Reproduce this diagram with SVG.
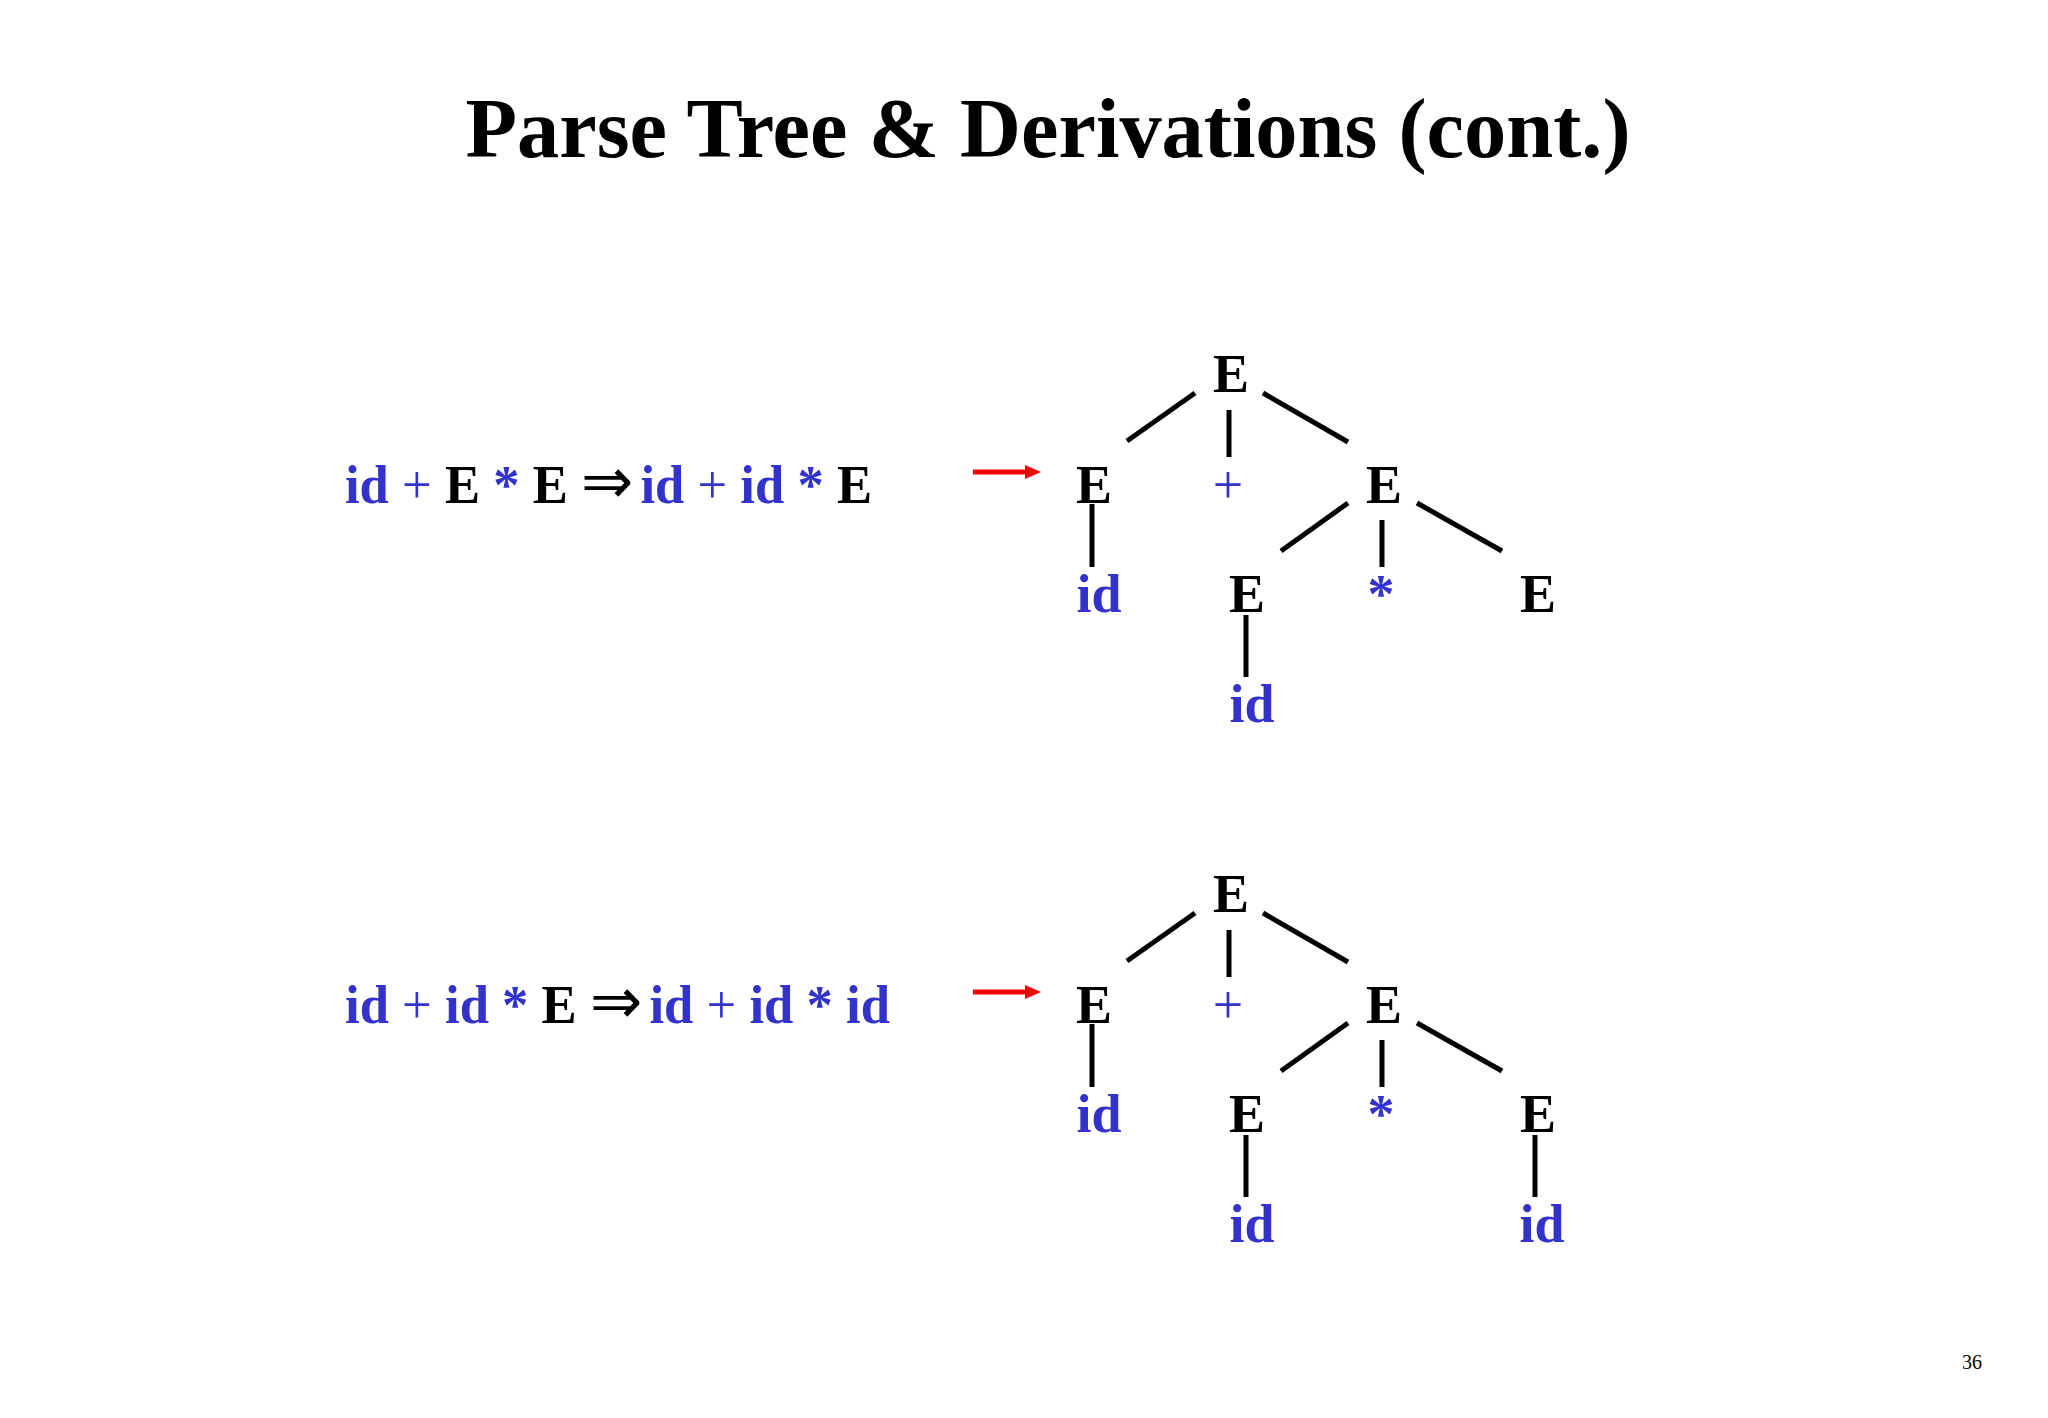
<svg xmlns="http://www.w3.org/2000/svg" width="2048" height="1418" viewBox="0 0 2048 1418">
<style>
text{font-family:"Liberation Serif","Times New Roman",serif;font-weight:bold;font-size:54px}
.b{fill:#3333cc}
.k{fill:#000000}
.r{font-weight:normal}
.dbl{font-size:64px}
.gap{font-size:28px}
.n{text-anchor:middle}
.ttl{font-size:84px;fill:#000}
.pg{font-size:20px;font-weight:normal;fill:#000}
.edge line{stroke:#000;stroke-width:5;stroke-linecap:butt}
.arr{stroke:#ff0000;stroke-width:5}
</style>
<defs>
<marker id="ah" markerUnits="userSpaceOnUse" markerWidth="16" markerHeight="14" refX="0" refY="7" orient="auto">
<path d="M0,0 L16,7 L0,14 z" fill="#ff0000"/>
</marker>
</defs>
<rect width="2048" height="1418" fill="#ffffff"/>
<g id="title"><text class="ttl n" x="1048" y="157" textLength="1165" lengthAdjust="spacingAndGlyphs">Parse Tree &amp; Derivations (cont.)</text></g>
<g id="eq1"><text x="345" y="503" textLength="527" lengthAdjust="spacingAndGlyphs"><tspan class="b">id </tspan><tspan class="b r">+</tspan><tspan class="b"> </tspan><tspan class="k">E</tspan><tspan class="b"> * </tspan><tspan class="k">E </tspan><tspan class="k r dbl">⇒</tspan><tspan class="gap"> </tspan><tspan class="b">id </tspan><tspan class="b r">+</tspan><tspan class="b"> id * </tspan><tspan class="k">E</tspan></text></g>
<g id="eq2"><text x="345" y="1023" textLength="545" lengthAdjust="spacingAndGlyphs"><tspan class="b">id </tspan><tspan class="b r">+</tspan><tspan class="b"> id * </tspan><tspan class="k">E </tspan><tspan class="k r dbl">⇒</tspan><tspan class="gap"> </tspan><tspan class="b">id </tspan><tspan class="b r">+</tspan><tspan class="b"> id * id</tspan></text></g>
<g id="arrows">
<line class="arr" x1="973" y1="472" x2="1025" y2="472" marker-end="url(#ah)"/>
<line class="arr" x1="973" y1="992" x2="1025" y2="992" marker-end="url(#ah)"/>
</g>
<g id="tree1">
<g id="t1-root"><text class="k n" x="1231" y="392">E</text></g>
<g id="t1-e1"><text class="k n" x="1094" y="503">E</text></g>
<g id="t1-plus"><text class="b n r" x="1228" y="503">+</text></g>
<g id="t1-e2"><text class="k n" x="1384" y="503">E</text></g>
<g id="t1-id1"><text class="b n" x="1099" y="612">id</text></g>
<g id="t1-e3"><text class="k n" x="1247" y="612">E</text></g>
<g id="t1-star"><text class="b n" x="1381" y="612">*</text></g>
<g id="t1-e4"><text class="k n" x="1538" y="612">E</text></g>
<g id="t1-id2"><text class="b n" x="1252" y="722">id</text></g>
</g>
<g id="tree2">
<g id="t2-root"><text class="k n" x="1231" y="912">E</text></g>
<g id="t2-e1"><text class="k n" x="1094" y="1023">E</text></g>
<g id="t2-plus"><text class="b n r" x="1228" y="1023">+</text></g>
<g id="t2-e2"><text class="k n" x="1384" y="1023">E</text></g>
<g id="t2-id1"><text class="b n" x="1099" y="1132">id</text></g>
<g id="t2-e3"><text class="k n" x="1247" y="1132">E</text></g>
<g id="t2-star"><text class="b n" x="1381" y="1132">*</text></g>
<g id="t2-e4"><text class="k n" x="1538" y="1132">E</text></g>
<g id="t2-id2"><text class="b n" x="1252" y="1242">id</text></g>
<g id="t2-id3"><text class="b n" x="1542" y="1242">id</text></g>
</g>
<g id="connectors" class="edge">
<line x1="1195" y1="393" x2="1127" y2="441"/>
<line x1="1229" y1="410" x2="1229" y2="457"/>
<line x1="1263" y1="393" x2="1348" y2="442"/>
<line x1="1092" y1="504" x2="1092" y2="567"/>
<line x1="1348" y1="503" x2="1281" y2="551"/>
<line x1="1382" y1="520" x2="1382" y2="567"/>
<line x1="1417" y1="503" x2="1502" y2="551"/>
<line x1="1246" y1="615" x2="1246" y2="677"/>
<line x1="1195" y1="913" x2="1127" y2="961"/>
<line x1="1229" y1="930" x2="1229" y2="977"/>
<line x1="1263" y1="913" x2="1348" y2="962"/>
<line x1="1092" y1="1024" x2="1092" y2="1087"/>
<line x1="1348" y1="1023" x2="1281" y2="1071"/>
<line x1="1382" y1="1040" x2="1382" y2="1087"/>
<line x1="1417" y1="1023" x2="1502" y2="1071"/>
<line x1="1246" y1="1135" x2="1246" y2="1197"/>
<line x1="1535" y1="1135" x2="1535" y2="1197"/>
</g>
<g id="page"><text class="pg n" x="1972" y="1369">36</text></g>
</svg>
